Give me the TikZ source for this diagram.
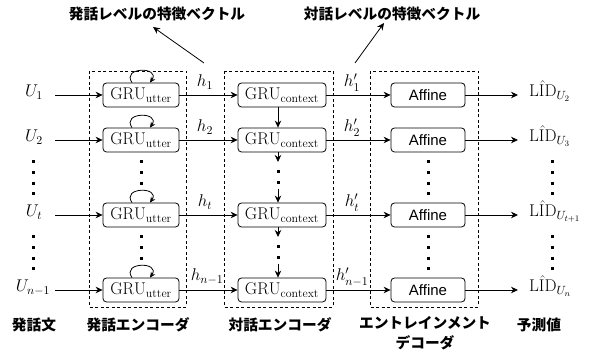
\RequirePackage{fix-cm}
\documentclass[tikz,border=0pt]{standalone}
\usepackage{fontspec}
\setsansfont{Liberation Sans}
\newfontfamily\jp{Noto Sans CJK JP}
\usetikzlibrary{arrows.meta}
\begin{document}
\begin{tikzpicture}[x=1pt,y=-1pt,
  every node/.style={inner sep=0pt},
  arr/.style={-{Stealth[length=7pt,width=6.5pt]}, line width=0.8pt},
  looparr/.style={-{Stealth[length=5.5pt,width=5pt]}, line width=0.8pt},
  gbox/.style={draw, rounded corners=3.5pt, line width=0.8pt, minimum height=24pt, font=\fontsize{17}{20}\selectfont},
  abox/.style={draw, rounded corners=3.5pt, line width=0.8pt, minimum width=74pt, minimum height=24pt, font=\sffamily\fontsize{15}{18}\selectfont},
  frame/.style={draw, dash pattern=on 3pt off 2.5pt, line width=0.7pt},
  dotcol/.style={line width=3pt, dash pattern=on 3pt off 7.6pt},
  lbl/.style={font=\fontsize{17}{20}\selectfont},
  jlab/.style={font=\jp\bfseries\fontsize{14.7}{20}\selectfont, align=center},
]
\useasboundingbox (0,0) rectangle (598,352);

% dashed frames
\draw[frame] (89,71) rectangle (186,307);
\draw[frame] (224,71) rectangle (333,307);
\draw[frame] (370,71) rectangle (478,307);

% utterance encoder boxes
\node[gbox, minimum width=76pt] (u1) at (141,95) {$\mathrm{GRU}_{\mathrm{utter}}$};
\node[gbox, minimum width=76pt] (u2) at (141,140) {$\mathrm{GRU}_{\mathrm{utter}}$};
\node[gbox, minimum width=76pt] (ut) at (141,215) {$\mathrm{GRU}_{\mathrm{utter}}$};
\node[gbox, minimum width=76pt] (un) at (141,290) {$\mathrm{GRU}_{\mathrm{utter}}$};

% context encoder boxes
\node[gbox, minimum width=88pt] (c1) at (282,95) {$\mathrm{GRU}_{\mathrm{context}}$};
\node[gbox, minimum width=88pt] (c2) at (282,140) {$\mathrm{GRU}_{\mathrm{context}}$};
\node[gbox, minimum width=88pt] (ct) at (282,215) {$\mathrm{GRU}_{\mathrm{context}}$};
\node[gbox, minimum width=88pt] (cn) at (282,290) {$\mathrm{GRU}_{\mathrm{context}}$};

% affine boxes
\node[abox] (a1) at (428,95) {Affine};
\node[abox] (a2) at (428,140) {Affine};
\node[abox] (at) at (428,215) {Affine};
\node[abox] (an) at (428,290) {Affine};

% inputs
\node[lbl, anchor=base] (x1) at (34,97) {$U_1$};
\node[lbl, anchor=base] (x2) at (34,142) {$U_2$};
\node[lbl, anchor=base] (xt) at (34,217) {$U_t$};
\node[lbl, anchor=base] (xn) at (33,292) {$U_{n-1}$};

% outputs
\node[lbl, anchor=base west] (o1) at (529,97) {$\hat{\mathrm{LID}}_{U_2}$};
\node[lbl, anchor=base west] (o2) at (529,142) {$\hat{\mathrm{LID}}_{U_3}$};
\node[lbl, anchor=base west] (ot) at (529,217) {$\hat{\mathrm{LID}}_{U_{t+1}}$};
\node[lbl, anchor=base west] (on) at (529,292) {$\hat{\mathrm{LID}}_{U_n}$};

% input arrows
\foreach \s/\d in {x1/u1,x2/u2,xt/ut,xn/un}{
  \draw[arr] (55,0 |- \d.west) -- (\d.west);
}
% h arrows
\foreach \s/\d in {u1/c1,u2/c2,ut/ct,un/cn}{
  \draw[arr] (\s.east) -- (\d.west);
}
\foreach \s/\d in {c1/a1,c2/a2,ct/at,cn/an}{
  \draw[arr] (\s.east) -- (\d.west);
}
\foreach \s/\d in {a1/o1,a2/o2,at/ot,an/on}{
  \draw[arr, shorten >=11pt] (\s.east) -- (\s.east -| \d.west);
}

% h labels
\node[lbl, anchor=base] (h1) at (205,87) {$h_1$};
\node[lbl, anchor=base] (h2) at (205,132) {$h_2$};
\node[lbl, anchor=base] (ht) at (205,207) {$h_t$};
\node[lbl, anchor=base] (hn) at (207,281) {$h_{n-1}$};
\node[lbl, anchor=base] (g1) at (352,87) {$h'_1$};
\node[lbl, anchor=base] (g2) at (352,132) {$h'_2$};
\node[lbl, anchor=base] (gt) at (352,207) {$h'_t$};
\node[lbl, anchor=base] (gn) at (352,281) {$h'_{n-1}$};

% self loops
\foreach \n in {u1,u2,ut,un}{
  \draw[looparr] ([xshift=-9pt]\n.north) .. controls +(-11,-16) and +(11,-16) .. ([xshift=9pt]\n.north);
}

% context vertical arrows
\draw[arr] ([xshift=-4pt]c1.south) -- ([xshift=-4pt]c2.north);
\coordinate (k1) at (278,162);
\coordinate (k2) at (278,189);
\coordinate (k3) at (278,237);
\coordinate (k4) at (278,264);
\draw[arr] ([xshift=-4pt]c2.south) -- (k1);
\draw[dotcol] (278,170.5) -- (278,186);
\draw[arr] (k2) -- ([xshift=-4pt]ct.north);
\draw[arr] ([xshift=-4pt]ct.south) -- (k3);
\draw[dotcol] (278,245.5) -- (278,261);
\draw[arr] (k4) -- ([xshift=-4pt]cn.north);

% vertical dots
\foreach \x in {33,428,552}{
  \draw[dotcol] (\x,160.5) -- (\x,197);
  \draw[dotcol] (\x,235.5) -- (\x,271);
}
\draw[dotcol] (141,160.5) -- (141,186);
\draw[dotcol] (141,235.5) -- (141,261);

% titles
\node[jlab] (T1) at (157,14) {発話レベルの特徴ベクトル};
\node[jlab] (T2) at (392,14) {対話レベルの特徴ベクトル};
\coordinate (t1a) at (204,63);
\coordinate (t1b) at (153,27);
\coordinate (t2a) at (355,63);
\coordinate (t2b) at (384,23);
\draw[arr] (t1a) -- (t1b);
\draw[arr] (t2a) -- (t2b);

% bottom labels
\node[jlab] (B1) at (34,325) {発話文};
\node[jlab] (B2) at (138,325) {発話エンコーダ};
\node[jlab] (B3) at (280,325) {対話エンコーダ};
\node[jlab] (B4) at (425,333) {エントレインメント\\デコーダ};
\node[jlab] (B5) at (539,325) {予測値};
\end{tikzpicture}
\end{document}
